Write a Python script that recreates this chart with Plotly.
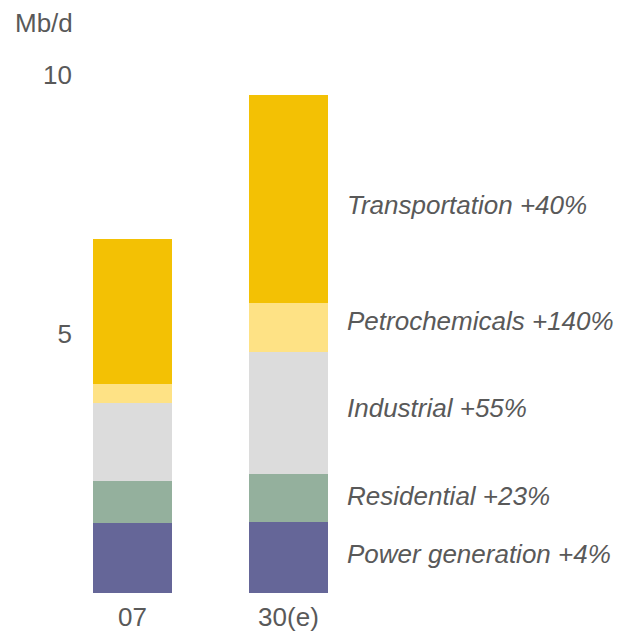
import plotly.graph_objects as go

categories = ["07", "30(e)"]
sectors = ["Power generation", "Residential", "Industrial", "Petrochemicals", "Transportation"]
growth_labels = ["+4%", "+23%", "+55%", "+140%", "+40%"]
power_generation = [1.35, 1.37]
residential = [0.81, 0.92]
industrial = [1.50, 2.37]
petrochemicals = [0.37, 0.94]
transportation = [2.81, 4.02]
y_ticks = [5, 10]

colors = ["#656698", "#94B09D", "#DCDCDC", "#FEE285", "#F3C104"]
series = [power_generation, residential, industrial, petrochemicals, transportation]

fig = go.Figure()
for name, vals, col in zip(sectors, series, colors):
    fig.add_trace(go.Bar(x=categories, y=vals, name=name, marker=dict(color=col, line=dict(width=0)),
                         width=0.506, showlegend=False, hoverinfo="skip"))

text_color = "#595959"
font_family = "Liberation Sans, Arial, sans-serif"
fs = 26

# labels next to the second bar, at segment midpoints
offsets = [0.07, 0.05, 0.09, 0.11, -0.12]
cum = 0
for name, g, vals, off in zip(sectors, growth_labels, series, offsets):
    mid = cum + vals[1] / 2
    cum += vals[1]
    fig.add_annotation(x=1.36, y=mid + off, xref="x", yref="y", text=f"<i>{name} {g}</i>",
                       showarrow=False, xanchor="left", yanchor="middle",
                       font=dict(size=fs, color=text_color, family=font_family))

left = 73
plot_w = 619 - left
fig.add_annotation(x=(13 - left) / plot_w, y=1.0, xref="paper", yref="paper", text="Mb/d", showarrow=False,
                   xanchor="left", yanchor="middle", yshift=0,
                   font=dict(size=fs, color=text_color, family=font_family))

fig.update_layout(
    barmode="stack",
    width=619, height=632,
    margin=dict(l=left, r=0, t=23, b=37, pad=0),
    plot_bgcolor="white", paper_bgcolor="white",
    bargap=0,
    hovermode=False,
    xaxis=dict(range=[-0.381, 3.119], showline=False, showgrid=False, zeroline=False, ticks="",
               ticklabelstandoff=6,
               tickfont=dict(size=fs, color=text_color, family=font_family)),
    yaxis=dict(range=[0, 11], tickvals=y_ticks, showline=False, showgrid=False, zeroline=False, ticks="",
               tickfont=dict(size=fs, color=text_color, family=font_family)),
)

fig.write_html("out.html", config={"displayModeBar": False},
               post_script="document.body.style.margin='0';document.body.style.overflow='hidden';")
